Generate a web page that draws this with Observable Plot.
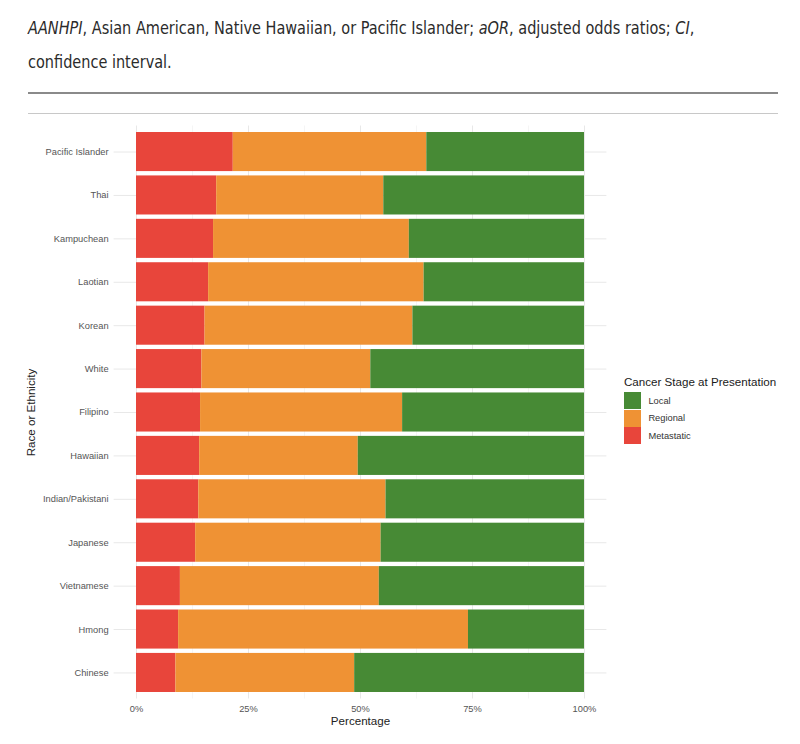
<!DOCTYPE html>
<html>
<head>
<meta charset="utf-8">
<script src="https://cdn.jsdelivr.net/npm/d3@7"></script>
<script src="https://cdn.jsdelivr.net/npm/@observablehq/plot@0.6"></script>
<style>
  html, body { margin: 0; padding: 0; background: #fff; }
  #wrap { position: relative; width: 800px; height: 744px; overflow: hidden; }
  #head { position: relative; height: 118px; }
  #caption {
    position: absolute; left: 28px; top: 11px; width: 820px;
    font-family: "DejaVu Sans Condensed", "Liberation Sans", sans-serif;
    font-size: 17.5px; line-height: 34px; color: #2b2b2b;
    transform: scaleX(0.92); transform-origin: 0 0;
  }
  #rule1 { position: absolute; left: 28px; width: 750px; top: 92px; height: 2px; background: #8a8a8a; }
  #rule2 { position: absolute; left: 28px; width: 750px; top: 113px; height: 1px; background: #c8c8c8; }
  #chart svg { display: block; }
  #legend {
    position: absolute; left: 624px; top: 374px;
    font-family: "Liberation Sans", Arial, sans-serif;
  }
  #legend .title { font-size: 11.6px; color: #1a1a1a; height: 18px; line-height: 16px; white-space: nowrap; }
  #legend .row { display: flex; align-items: center; height: 17.6px; }
  #legend .key { width: 17.4px; height: 17px; margin-right: 7px; }
  #legend .lab { font-size: 9.3px; color: #333; }
</style>
</head>
<body>
<div id="wrap">
  <div id="head">
    <div id="caption"><i>AANHPI</i>, Asian American, Native Hawaiian, or Pacific Islander; <i>aOR</i>, adjusted odds ratios; <i>CI</i>,<br>confidence interval.</div>
    <div id="rule1"></div>
    <div id="rule2"></div>
  </div>
  <div id="chart"></div>
  <div id="legend"></div>
</div>
<script>
// Categories (top to bottom)
const groups = ["Pacific Islander", "Thai", "Kampuchean", "Laotian", "Korean", "White", "Filipino",
  "Hawaiian", "Indian/Pakistani", "Japanese", "Vietnamese", "Hmong", "Chinese"];
// Percentages by stage
const metastatic = [21.6, 17.9, 17.2, 16.1, 15.3, 14.6, 14.3, 14.1, 13.9, 13.2, 9.8, 9.4, 8.8];
const regional   = [43.2, 37.3, 43.7, 48.1, 46.4, 37.7, 45.1, 35.4, 41.8, 41.4, 44.4, 64.7, 39.9];
const local      = [35.2, 44.8, 39.1, 35.8, 38.3, 47.7, 40.6, 50.5, 44.3, 45.4, 45.8, 25.9, 51.3];
// Stages and colours
const stages = ["Local", "Regional", "Metastatic"];
const stageColors = ["#478a35", "#ef9234", "#e8453b"];
const stackOrder = ["Metastatic", "Regional", "Local"];
// Tick labels
const xTicks = [0, 25, 50, 75, 100];
const xMinor = [12.5, 37.5, 62.5, 87.5];

const seriesByStage = { Metastatic: metastatic, Regional: regional, Local: local };
const data = [];
groups.forEach((g, i) => {
  stackOrder.forEach(s => data.push({ group: g, stage: s, value: seriesByStage[s][i] }));
});

const chart = Plot.plot({
  width: 800,
  height: 626,
  marginLeft: 113.6,
  marginRight: 193.6,
  marginTop: 7.5,
  marginBottom: 45.5,
  style: { fontFamily: "'Liberation Sans', Arial, sans-serif", background: "#fff" },
  x: { domain: [-5, 105], ticks: xTicks },
  y: { domain: groups, paddingInner: 0.1, paddingOuter: 0.15, round: false },
  color: { domain: stages, range: stageColors },
  marks: [
    Plot.gridX(xMinor, { stroke: "#eeeeee", strokeOpacity: 1, strokeWidth: 0.6 }),
    Plot.gridX(xTicks, { stroke: "#e8e8e8", strokeOpacity: 1, strokeWidth: 1 }),
    Plot.gridY({ stroke: "#e8e8e8", strokeOpacity: 1, strokeWidth: 1 }),
    Plot.barX(data, Plot.stackX({ x: "value", y: "group", fill: "stage", order: stackOrder, inset: 0 })),
    Plot.axisX(xTicks, { tickSize: 0, tickPadding: 6.5, tickFormat: d => d + "%", fontSize: 9.3, color: "#555", label: null }),
    Plot.axisY({ tickSize: 0, tickPadding: 5.5, fontSize: 9.3, color: "#555", label: null }),
    Plot.text(["Percentage"], { frameAnchor: "bottom", dy: 22.5, lineAnchor: "middle", fontSize: 11.6, fill: "#222" }),
    Plot.text(["Race or Ethnicity"], { frameAnchor: "left", dx: -82.6, rotate: -90, textAnchor: "middle", lineAnchor: "middle", fontSize: 11.6, fill: "#222" })
  ]
});
document.getElementById("chart").appendChild(chart);

// Legend
const leg = document.getElementById("legend");
const t = document.createElement("div");
t.className = "title";
t.textContent = "Cancer Stage at Presentation";
leg.appendChild(t);
stages.forEach((s, i) => {
  const row = document.createElement("div");
  row.className = "row";
  const k = document.createElement("div");
  k.className = "key";
  k.style.background = stageColors[i];
  const l = document.createElement("div");
  l.className = "lab";
  l.textContent = s;
  row.appendChild(k); row.appendChild(l);
  leg.appendChild(row);
});
</script>
</body>
</html>
